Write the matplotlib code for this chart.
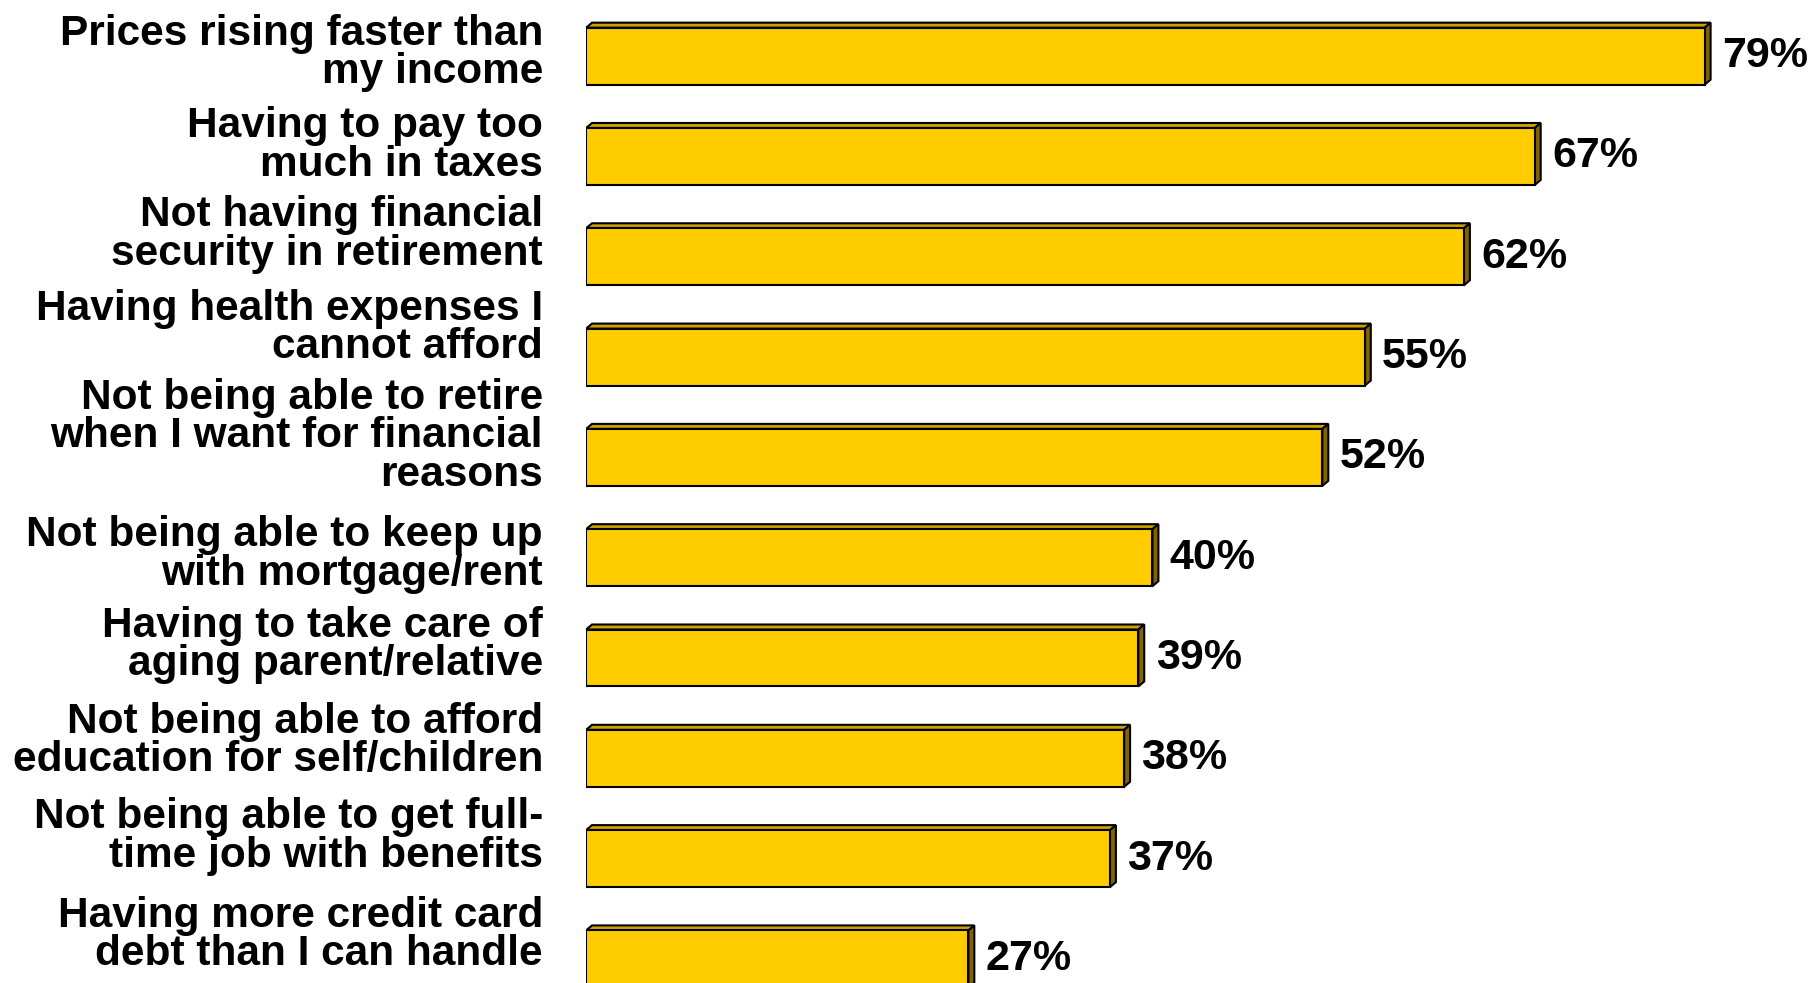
import matplotlib.pyplot as plt
from matplotlib.patches import Polygon

plt.rcParams['font.family'] = ['Liberation Sans', 'DejaVu Sans']

categories = [
    'Prices rising faster than\nmy income',
    'Having to pay too\nmuch in taxes',
    'Not having financial\nsecurity in retirement',
    'Having health expenses I\ncannot afford',
    'Not being able to retire\nwhen I want for financial\nreasons',
    'Not being able to keep up\nwith mortgage/rent',
    'Having to take care of\naging parent/relative',
    'Not being able to afford\neducation for self/children',
    'Not being able to get full-\ntime job with benefits',
    'Having more credit card\ndebt than I can handle',
]
values = [79, 67, 62, 55, 52, 40, 39, 38, 37, 27]

FRONT = '#FFCC00'
TOP = '#CCA000'
SIDE = '#806400'

# how far each category label sits above its bar (in bar slots)
label_nudge = [0.03, 0.11, 0.22, 0.29, 0.21, 0.03, 0.13, 0.17, 0.22, 0.24]


def draw_chart():
    fig = plt.figure(figsize=(18.10, 9.83), dpi=100, facecolor='white')
    ax = fig.add_axes([0.3238, 0.0, 1 - 0.3238, 1.0])
    ax.set_xlim(0, 86.44)
    ax.set_ylim(9.24, -0.56)
    ax.axis('off')

    h = 0.568
    dx, dy = 0.42, 0.05
    ypos = list(range(len(values)))

    ax.barh(ypos, values, height=h, color=FRONT, edgecolor='black', linewidth=1.5, zorder=3)
    for y, v, lab, nd in zip(ypos, values, categories, label_nudge):
        top = y - h / 2
        bot = y + h / 2
        ax.add_patch(Polygon([(0, top), (dx, top - dy), (v + dx, top - dy), (v, top)],
                             closed=True, facecolor=TOP, edgecolor='black', linewidth=1.5, zorder=2))
        ax.add_patch(Polygon([(v, top), (v + dx, top - dy), (v + dx, bot - dy), (v, bot)],
                             closed=True, facecolor=SIDE, edgecolor='black', linewidth=1.5, zorder=2))
        ax.text(v + dx + 0.8, y, f'{v}%', ha='left', va='center', fontsize=31,
                fontweight='bold', color='black')
        ax.text(-3.05, y - nd, lab, ha='right', va='center', fontsize=30.5,
                fontweight='bold', color='black', linespacing=0.95, clip_on=False)

    fig.savefig('out.png', dpi=100, facecolor='white')


if __name__ == '__main__':
    draw_chart()
